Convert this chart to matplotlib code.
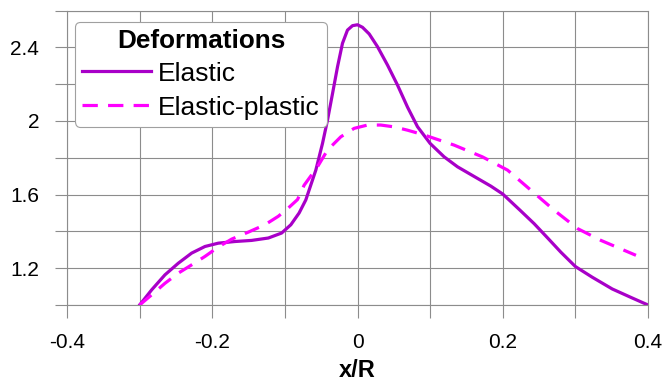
import matplotlib
matplotlib.use('Agg')
import matplotlib.pyplot as plt
from matplotlib.ticker import MultipleLocator

# Valori
x_elastic = [-0.3, -0.2835, -0.2651, -0.2468, -0.2284, -0.21, -0.1917, -0.1687, -0.1458,
             -0.1228, -0.1045, -0.0918, -0.0804, -0.0712, -0.0574, -0.0482, -0.0413,
             -0.0344, -0.0275, -0.0207, -0.0138, -0.0069, 0.0, 0.0069, 0.0161, 0.0275,
             0.0413, 0.0551, 0.0689, 0.0826, 0.1, 0.1193, 0.1377, 0.1652, 0.1836, 0.2,
             0.2238, 0.2432, 0.2616, 0.28, 0.3, 0.3232, 0.3508, 0.3783, 0.4]
y_elastic = [1.0, 1.082, 1.164, 1.227, 1.282, 1.318, 1.336, 1.345, 1.351,
             1.364, 1.391, 1.436, 1.5, 1.571, 1.733, 1.878, 2.005,
             2.149, 2.295, 2.422, 2.494, 2.518, 2.523, 2.509, 2.473, 2.404,
             2.304, 2.195, 2.075, 1.969, 1.878, 1.805, 1.751, 1.688, 1.646, 1.603,
             1.515, 1.442, 1.365, 1.287, 1.209, 1.151, 1.087, 1.038, 1.0]

x_plastic = [-0.3, -0.2835, -0.2651, -0.2468, -0.2284, -0.21, -0.1917, -0.1733, -0.1504,
             -0.1275, -0.1091, -0.0953, -0.0826, -0.0735, -0.0551, -0.0413, -0.023,
             -0.0046, 0.0138, 0.032, 0.0505, 0.0689, 0.0918, 0.133, 0.172, 0.2066,
             0.2387, 0.2708, 0.3031, 0.3352, 0.3834]
y_plastic = [1.0, 1.055, 1.118, 1.173, 1.218, 1.264, 1.315, 1.358, 1.396,
             1.436, 1.482, 1.527, 1.573, 1.651, 1.751, 1.842, 1.914,
             1.960, 1.978, 1.978, 1.968, 1.950, 1.924, 1.869, 1.805, 1.733,
             1.624, 1.515, 1.415, 1.351, 1.27]

xticks = [-0.4, -0.2, 0, 0.2, 0.4]
xtick_labels = ['-0.4', '-0.2', '0', '0.2', '0.4']
yticks = [1.2, 1.6, 2.0, 2.4]
ytick_labels = ['1.2', '1.6', '2', '2.4']

plt.rcParams['font.family'] = ['Liberation Sans', 'DejaVu Sans']

fig = plt.figure(figsize=(6.66, 3.85), dpi=100)
ax = fig.add_axes([0.1006, 0.2078, 0.8724, 0.7647])

ax.plot(x_elastic, y_elastic, color='#a800c8', linewidth=2.3, label='Elastic',
        solid_joinstyle='round')
ax.plot(x_plastic, y_plastic, color='#ff00ff', linewidth=2.3, dashes=(4.8, 3.2),
        label='Elastic-plastic')

ax.set_xlim(-0.4, 0.4)
ax.set_ylim(1.0, 2.6)
ax.set_xticks(xticks)
ax.set_xticklabels(xtick_labels)
ax.set_yticks(yticks)
ax.set_yticklabels(ytick_labels)
ax.xaxis.set_minor_locator(MultipleLocator(0.1))
ax.yaxis.set_minor_locator(MultipleLocator(0.2))

grid_color = '#8c8c8c'
ax.grid(which='both', color=grid_color, linewidth=0.8)
ax.set_axisbelow(True)
ax.tick_params(which='both', length=9, width=0.8, color=grid_color,
               labelsize=15, pad=11)
for spine in ax.spines.values():
    spine.set_color(grid_color)
    spine.set_linewidth(0.8)

ax.set_xlabel('x/R', fontsize=17, fontweight='bold', labelpad=5)

leg = ax.legend(title='Deformations', loc='upper left',
                bbox_to_anchor=(0.0138, 0.961), borderaxespad=0,
                fontsize=19, title_fontproperties={'weight': 'bold', 'size': 18.8},
                handlelength=2.6, handletextpad=0.28, labelspacing=0.38,
                borderpad=0.27, fancybox=True, framealpha=1, edgecolor='#a0a0a0')
leg.get_frame().set_linewidth(0.8)
leg._legend_box.sep = 6

plt.savefig('out.png', dpi=100)
plt.close()
